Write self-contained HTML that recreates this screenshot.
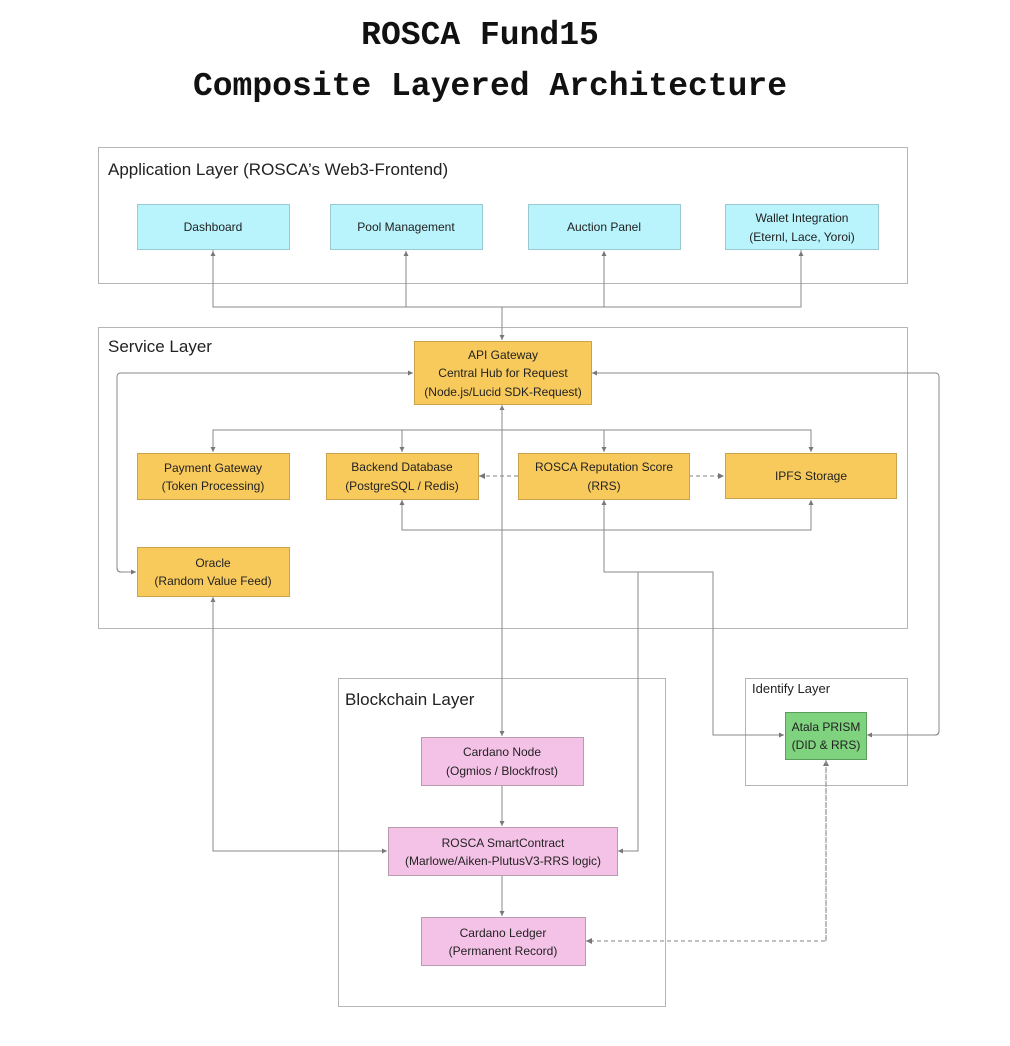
<!DOCTYPE html>
<html><head><meta charset="utf-8"><style>
html,body{margin:0;padding:0;background:#fff}
svg{display:block}
text{font-family:"Liberation Sans",sans-serif;fill:#222}
.n{font-size:12px;text-anchor:middle}
.t{font-family:"Liberation Mono",monospace;font-size:33px;font-weight:bold;text-anchor:middle;fill:#111}
.l{font-size:17px}
.ln{fill:none;stroke:#8a8a8a;stroke-width:1}
.d{fill:none;stroke:#9a9a9a;stroke-width:1.2;stroke-dasharray:4 3}
.box{fill:none;stroke:#b5b5b5;stroke-width:1}
.c{fill:#b9f3fb;stroke:#9cc9cf}
.o{fill:#f8ca5c;stroke:#c9a24a}
.p{fill:#f5c2e7;stroke:#b99aae}
.g{fill:#7fd27e;stroke:#5a9e59}
</style></head><body>
<svg width="1010" height="1046" viewBox="0 0 1010 1046" xmlns="http://www.w3.org/2000/svg">
<defs><marker id="a" markerWidth="6" markerHeight="6" refX="5" refY="3" orient="auto"><path d="M0,0.5 L5,3 L0,5.5z" fill="#777"/></marker></defs>
<text class="t" x="480" y="44">ROSCA Fund15</text>
<text class="t" x="490" y="95">Composite Layered Architecture</text>

<rect class="box" x="98.5" y="147.5" width="809" height="136"/>
<text class="l" x="108" y="175">Application Layer (ROSCA’s Web3-Frontend)</text>
<rect class="box" x="98.5" y="327.5" width="809" height="301"/>
<text class="l" x="108" y="352">Service Layer</text>
<rect class="box" x="338.5" y="678.5" width="327" height="328"/>
<text class="l" x="345" y="705">Blockchain Layer</text>
<rect class="box" x="745.5" y="678.5" width="162" height="107"/>
<text x="752" y="693" style="font-size:13px">Identify Layer</text>

<path class="ln" d="M213,250 V307 H801 V250"/>
<path class="ln" d="M213,307 V251" marker-end="url(#a)"/>
<path class="ln" d="M406,307 V251" marker-end="url(#a)"/>
<path class="ln" d="M604,307 V251" marker-end="url(#a)"/>
<path class="ln" d="M801,307 V251" marker-end="url(#a)"/>
<path class="ln" d="M502,307 V340" marker-end="url(#a)"/>

<path class="ln" d="M502,430 V405" marker-end="url(#a)"/>
<path class="ln" d="M213,452 V430 H811 V452" marker-end="url(#a)"/>
<path class="ln" d="M213,430 V452" marker-end="url(#a)"/>
<path class="ln" d="M402,430 V452" marker-end="url(#a)"/>
<path class="ln" d="M604,430 V452" marker-end="url(#a)"/>
<path class="d" d="M518,476 H479" marker-end="url(#a)"/>
<path class="d" d="M689,476 H724" marker-end="url(#a)"/>
<path class="ln" d="M402,500 V530 H811 V500" marker-end="url(#a)"/>
<path class="ln" d="M606,530 H402 V500" marker-end="url(#a)"/>

<path class="ln" d="M136,572 H121 Q117,572 117,568 V377 Q117,373 121,373 H413" marker-end="url(#a)"/>
<path class="ln" d="M117,568 Q117,572 121,572 H136" marker-end="url(#a)"/>
<path class="ln" d="M866,735 H935 Q939,735 939,731 V377 Q939,373 935,373 H592" marker-end="url(#a)"/>
<path class="ln" d="M939,731 Q939,735 935,735 H867" marker-end="url(#a)"/>

<path class="ln" d="M604,572 V500" marker-end="url(#a)"/>
<path class="ln" d="M604,530 V572 H713 V735 H784" marker-end="url(#a)"/>
<path class="ln" d="M638,572 V851 H618" marker-end="url(#a)"/>

<path class="ln" d="M502,405 V736" marker-end="url(#a)"/>
<path class="ln" d="M213,851 V597" marker-end="url(#a)"/>
<path class="ln" d="M213,600 V851 H387" marker-end="url(#a)"/>
<path class="ln" d="M502,785 V826" marker-end="url(#a)"/>
<path class="ln" d="M502,875 V916" marker-end="url(#a)"/>
<path class="d" d="M826,941 V760" marker-end="url(#a)"/>
<path class="d" d="M826,760 V941 H586" marker-end="url(#a)"/>

<rect class="c" x="137.5" y="204.5" width="152" height="45"/><text class="n" x="213" y="231">Dashboard</text>
<rect class="c" x="330.5" y="204.5" width="152" height="45"/><text class="n" x="406" y="231">Pool Management</text>
<rect class="c" x="528.5" y="204.5" width="152" height="45"/><text class="n" x="604" y="231">Auction Panel</text>
<rect class="c" x="725.5" y="204.5" width="153" height="45"/><text class="n" x="802" y="222">Wallet Integration</text><text class="n" x="802" y="241">(Eternl, Lace, Yoroi)</text>

<rect class="o" x="414.5" y="341.5" width="177" height="63"/>
<text class="n" x="503" y="359">API Gateway</text><text class="n" x="503" y="377">Central Hub for Request</text><text class="n" x="503" y="396">(Node.js/Lucid SDK-Request)</text>
<rect class="o" x="137.5" y="453.5" width="152" height="46"/><text class="n" x="213" y="472">Payment Gateway</text><text class="n" x="213" y="490">(Token Processing)</text>
<rect class="o" x="326.5" y="453.5" width="152" height="46"/><text class="n" x="402" y="471">Backend Database</text><text class="n" x="402" y="490">(PostgreSQL / Redis)</text>
<rect class="o" x="518.5" y="453.5" width="171" height="46"/><text class="n" x="604" y="471">ROSCA Reputation Score</text><text class="n" x="604" y="490">(RRS)</text>
<rect class="o" x="725.5" y="453.5" width="171" height="45"/><text class="n" x="811" y="480">IPFS Storage</text>
<rect class="o" x="137.5" y="547.5" width="152" height="49"/><text class="n" x="213" y="567">Oracle</text><text class="n" x="213" y="585">(Random Value Feed)</text>

<rect class="g" x="785.5" y="712.5" width="81" height="47"/><text class="n" x="826" y="731">Atala PRISM</text><text class="n" x="826" y="749">(DID &amp; RRS)</text>
<rect class="p" x="421.5" y="737.5" width="162" height="48"/><text class="n" x="502" y="756">Cardano Node</text><text class="n" x="502" y="775">(Ogmios / Blockfrost)</text>
<rect class="p" x="388.5" y="827.5" width="229" height="48"/><text class="n" x="503" y="847">ROSCA SmartContract</text><text class="n" x="503" y="865">(Marlowe/Aiken-PlutusV3-RRS logic)</text>
<rect class="p" x="421.5" y="917.5" width="164" height="48"/><text class="n" x="503" y="937">Cardano Ledger</text><text class="n" x="503" y="955">(Permanent Record)</text>
</svg>
</body></html>
